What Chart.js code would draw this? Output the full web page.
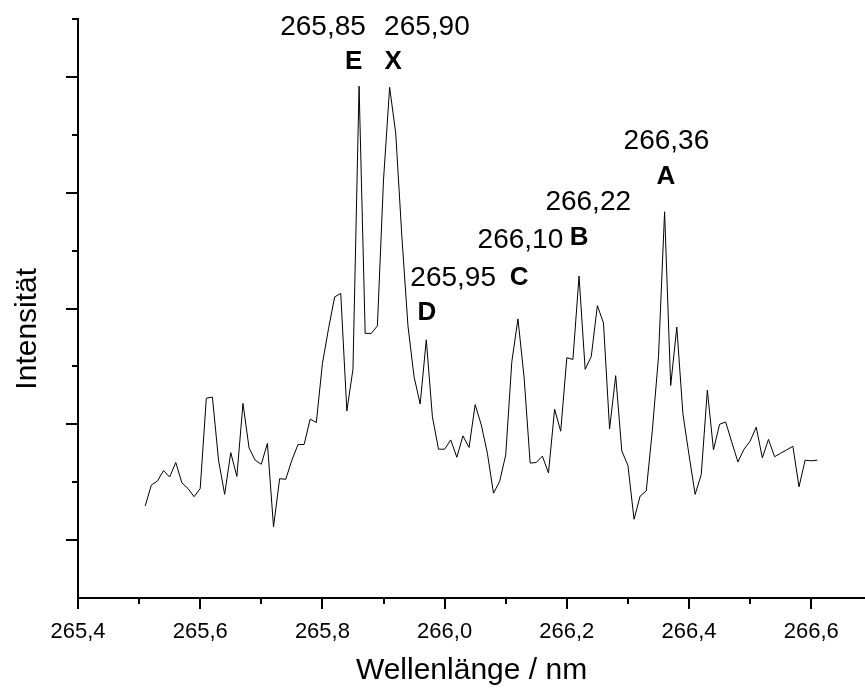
<!DOCTYPE html>
<html lang="de">
<head>
<meta charset="utf-8">
<title>Spektrum</title>
<script src="https://cdn.jsdelivr.net/npm/chart.js@4.4.1/dist/chart.umd.min.js"></script>
<style>
    html, body { margin: 0; padding: 0; background: #fff; overflow: hidden; }
    #wrap { position: relative; width: 865px; height: 689px; }
</style>
</head>
<body>
<div id="wrap"><canvas id="chartSpektrum"></canvas></div>
<script>
// ===== Spektrum 265,5 - 266,6 nm =====

// Messpunkte (Wellenlänge in nm)
const wellenlaenge = [
    265.51, 265.52, 265.53, 265.54, 265.55, 265.56, 265.57, 265.58, 265.59, 265.60,
    265.61, 265.62, 265.63, 265.64, 265.65, 265.66, 265.67, 265.68, 265.69, 265.70,
    265.71, 265.72, 265.73, 265.74, 265.75, 265.76, 265.77, 265.78, 265.79, 265.80,
    265.81, 265.82, 265.83, 265.84, 265.85, 265.86, 265.87, 265.88, 265.89, 265.90,
    265.91, 265.92, 265.93, 265.94, 265.95, 265.96, 265.97, 265.98, 265.99, 266.00,
    266.01, 266.02, 266.03, 266.04, 266.05, 266.06, 266.07, 266.08, 266.09, 266.10,
    266.11, 266.12, 266.13, 266.14, 266.15, 266.16, 266.17, 266.18, 266.19, 266.20,
    266.21, 266.22, 266.23, 266.24, 266.25, 266.26, 266.27, 266.28, 266.29, 266.30,
    266.31, 266.32, 266.33, 266.34, 266.35, 266.36, 266.37, 266.38, 266.39, 266.40,
    266.41, 266.42, 266.43, 266.44, 266.45, 266.46, 266.47, 266.48, 266.49, 266.50,
    266.51, 266.52, 266.53, 266.54, 266.55, 266.56, 266.57, 266.58, 266.59, 266.60,
    266.61
];

// Intensität (willkürliche Einheiten)
const intensitaet = [
    1.59, 1.95, 2.02, 2.20, 2.09, 2.34, 1.99, 1.89, 1.75, 1.89,
    3.45, 3.47, 2.38, 1.79, 2.51, 2.10, 3.36, 2.59, 2.38, 2.31,
    2.67, 1.23, 2.06, 2.05, 2.38, 2.65, 2.65, 3.09, 3.03, 4.05,
    4.65, 5.20, 5.26, 3.23, 3.95, 8.84, 4.57, 4.57, 4.70, 7.22,
    8.82, 8.03, 6.25, 4.70, 3.82, 3.35, 4.46, 3.13, 2.57, 2.57,
    2.73, 2.43, 2.80, 2.60, 3.34, 2.99, 2.50, 1.81, 2.01, 2.47,
    4.08, 4.82, 3.82, 2.33, 2.34, 2.45, 2.16, 3.26, 2.88, 4.15,
    4.12, 5.56, 3.95, 4.17, 5.05, 4.75, 2.92, 3.84, 2.54, 2.29,
    1.36, 1.76, 1.85, 2.90, 4.16, 6.67, 3.67, 4.68, 3.18, 2.47,
    1.79, 2.13, 3.59, 2.56, 3.00, 3.04, 2.69, 2.35, 2.57, 2.71,
    2.95, 2.42, 2.74, 2.44, 2.50, 2.56, 2.62, 1.92, 2.38, 2.37,
    2.38
];

// Achsenteilung
const xTicksMajor = [265.4, 265.6, 265.8, 266.0, 266.2, 266.4, 266.6];
const xTicksMinor = [265.5, 265.7, 265.9, 266.1, 266.3, 266.5];
const yTicksMajor = [1, 3, 5, 7, 9];
const yTicksMinor = [2, 4, 6, 8, 10];

// Linien-Beschriftungen
const peakWerte = ['265,85', '265,90', '265,95', '266,10', '266,22', '266,36'];
const peakBuchstaben = ['E', 'X', 'D', 'C', 'B', 'A'];

// Lage der Beschriftungen (in Achseneinheiten)
const wertPos = [[265.801, 9.86], [265.971, 9.85], [266.014, 5.53], [266.124, 6.18], [266.235, 6.84], [266.363, 7.88]];
const buchstabePos = [[265.851, 9.26], [265.916, 9.26], [265.971, 4.92], [266.122, 5.53], [266.220, 6.22], [266.362, 7.27]];

const SCHRIFT = '"Liberation Sans", Arial, sans-serif';

// Tick-Striche (lang / kurz)
const achsenStriche = {
    id: 'achsenStriche',
    afterDraw(chart) {
        const { ctx, scales: { x, y } } = chart;
        ctx.save();
        ctx.strokeStyle = '#000';
        ctx.lineWidth = 2;
        ctx.beginPath();
        xTicksMajor.forEach(v => {
            const px = Math.round(x.getPixelForValue(v));
            ctx.moveTo(px, x.top); ctx.lineTo(px, x.top + 11);
        });
        xTicksMinor.forEach(v => {
            const px = Math.round(x.getPixelForValue(v));
            ctx.moveTo(px, x.top); ctx.lineTo(px, x.top + 6);
        });
        yTicksMajor.forEach(v => {
            const py = Math.round(y.getPixelForValue(v));
            ctx.moveTo(y.right, py); ctx.lineTo(y.right - 12, py);
        });
        yTicksMinor.forEach(v => {
            const py = Math.round(y.getPixelForValue(v));
            ctx.moveTo(y.right, py); ctx.lineTo(y.right - 6, py);
        });
        ctx.stroke();

        // y-Achsentitel, etwas unterhalb der Mitte
        ctx.fillStyle = '#000';
        ctx.font = '30px ' + SCHRIFT;
        ctx.textAlign = 'center';
        ctx.textBaseline = 'middle';
        ctx.translate(28, y.getPixelForValue(4.65));
        ctx.rotate(-Math.PI / 2);
        ctx.fillText('Intensität', 0, 0);
        ctx.restore();
    }
};

// Beschriftung der Linien
const peakBeschriftung = {
    id: 'peakBeschriftung',
    afterDatasetsDraw(chart) {
        const { ctx, scales: { x, y } } = chart;
        ctx.save();
        ctx.fillStyle = '#000';
        ctx.textAlign = 'center';
        ctx.textBaseline = 'middle';
        ctx.font = '28px ' + SCHRIFT;
        peakWerte.forEach((txt, i) => {
            ctx.fillText(txt, x.getPixelForValue(wertPos[i][0]), y.getPixelForValue(wertPos[i][1]));
        });
        ctx.font = 'bold 26px ' + SCHRIFT;
        peakBuchstaben.forEach((txt, i) => {
            ctx.fillText(txt, x.getPixelForValue(buchstabePos[i][0]), y.getPixelForValue(buchstabePos[i][1]));
        });
        ctx.restore();
    }
};

new Chart(document.getElementById('chartSpektrum'), {
    type: 'line',
    data: {
        datasets: [{
            label: 'Intensität',
            data: wellenlaenge.map((w, i) => ({ x: w, y: intensitaet[i] })),
            borderColor: '#000',
            borderWidth: 1,
            pointRadius: 0,
            tension: 0,
            fill: false
        }]
    },
    options: {
        responsive: true,
        maintainAspectRatio: false,
        animation: false,
        layout: { padding: { top: 19, right: 0, left: 0, bottom: 0 } },
        plugins: {
            legend: { display: false },
            tooltip: { enabled: false }
        },
        scales: {
            x: {
                type: 'linear',
                position: 'bottom',
                min: 265.4,
                max: 266.688,
                afterFit: s => { s.height = 91; },
                afterBuildTicks: s => { s.ticks = xTicksMajor.map(v => ({ value: v })); },
                grid: { display: false, drawTicks: false },
                border: { display: true, color: '#000', width: 2 },
                ticks: {
                    color: '#000',
                    padding: 21,
                    maxRotation: 0,
                    autoSkip: false,
                    font: { family: SCHRIFT, size: 22 },
                    callback: v => v.toFixed(1).replace('.', ',')
                },
                title: {
                    display: true,
                    text: 'Wellenlänge / nm',
                    color: '#000',
                    font: { family: SCHRIFT, size: 30 },
                    padding: 0
                }
            },
            y: {
                min: 0,
                max: 10,
                afterFit: s => { s.width = 78; },
                grid: { display: false, drawTicks: false },
                border: { display: true, color: '#000', width: 2 },
                ticks: { display: false, stepSize: 1 }
            }
        }
    },
    plugins: [achsenStriche, peakBeschriftung]
});
</script>
</body>
</html>
